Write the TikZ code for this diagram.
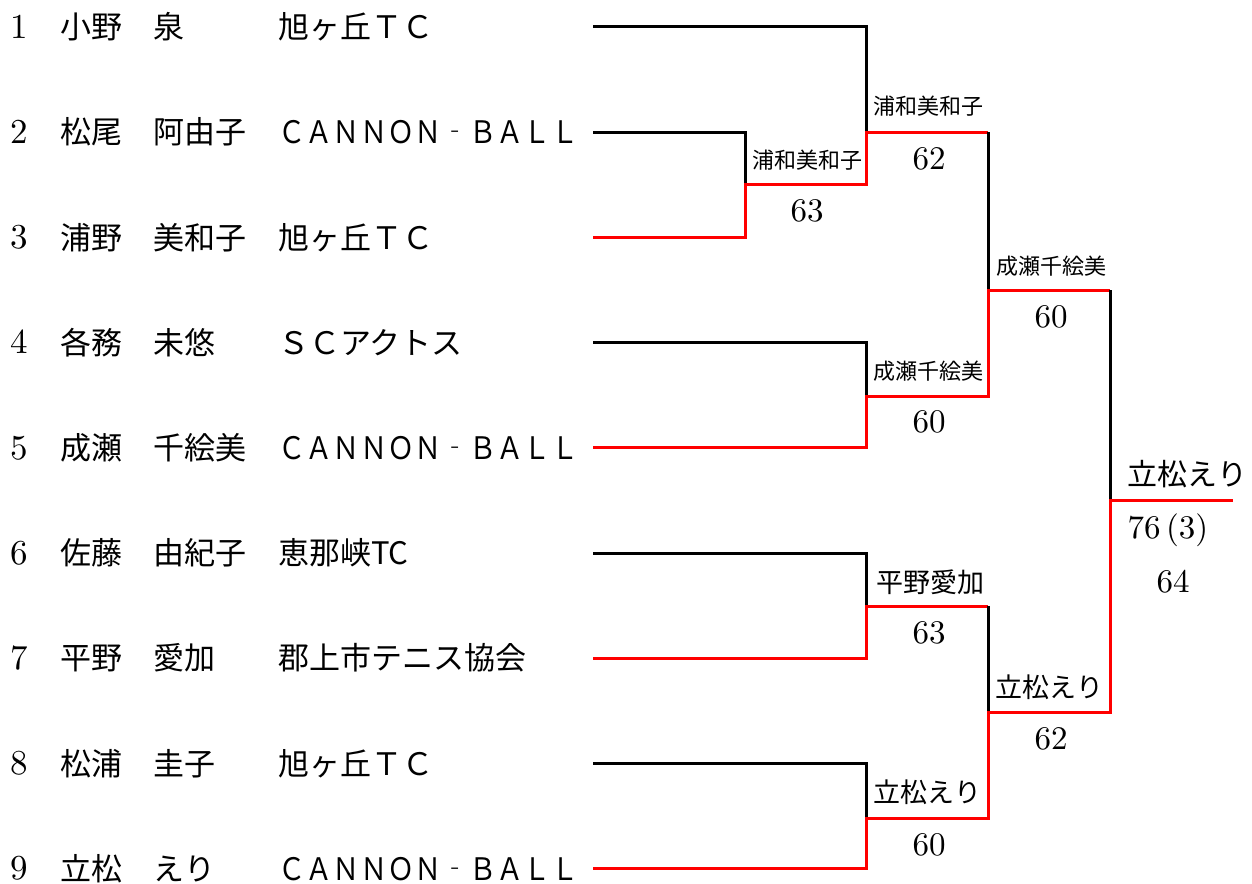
\documentclass[tikz,border=0pt]{standalone}
\usepackage{fontspec}
\usepackage{tikz}
\newfontfamily\jp{Noto Sans CJK JP}
\newfontfamily\jpnarrow[FakeStretch=0.88]{Noto Sans CJK JP}
\newfontfamily\numfont[Extension=.otf]{lmroman10-regular}

\begin{document}
\begin{tikzpicture}[x=1pt, y=-1pt,
                    lose/.style={draw=black, line width=3pt},
                    win/.style={draw=red, line width=3pt},
                    seed/.style={anchor=west, inner sep=0pt, font=\numfont\fontsize{35}{40}\selectfont,
                                 text height=22.5pt, text depth=0pt},
                    player/.style={anchor=west, inner sep=0pt, font=\jp\fontsize{31}{36}\selectfont,
                                   text height=25.5pt, text depth=2pt},
                    winner/.style={inner sep=0pt, font=\jp\fontsize{#1}{#1}\selectfont,
                                   text height={0.82*#1pt}, text depth={0.06*#1pt}},
                    score/.style={inner sep=0pt, font=\numfont\fontsize{33}{38}\selectfont,
                                  text height=21.3pt, text depth=0pt}]
    %\draw[help lines] (0,0) grid[step=50] (1252,883);
    \useasboundingbox (0,0) rectangle (1252,883);

   % Entries
   \foreach \i/\nm/\club in {1/小野　泉/旭ヶ丘ＴＣ,
                             2/松尾　阿由子/{\jpnarrow ＣＡＮＮＯＮ‐ＢＡＬＬ},
                             3/浦野　美和子/旭ヶ丘ＴＣ,
                             4/各務　未悠/ＳＣアクトス,
                             5/成瀬　千絵美/{\jpnarrow ＣＡＮＮＯＮ‐ＢＡＬＬ},
                             6/佐藤　由紀子/恵那峡TC,
                             7/平野　愛加/郡上市テニス協会,
                             8/松浦　圭子/旭ヶ丘ＴＣ,
                             9/立松　えり/{\jpnarrow ＣＡＮＮＯＮ‐ＢＡＬＬ}} {
     \pgfmathsetmacro\y{27+(\i-1)*105.2}
     \node[seed] (n\i) at (10,\y) {\i};
     \node[player] (nm\i) at (60,\y) {\nm};
     \node[player] (c\i) at (278,\y) {\club};
     \coordinate (p\i) at (593,\y);
   }

   % Junctions
   \coordinate (m23) at (745,184);
   \coordinate (q1) at (866,132.2);
   \coordinate (q2) at (866,396);
   \coordinate (q3) at (866,606);
   \coordinate (q4) at (866,818);
   \coordinate (s1) at (988,290);
   \coordinate (s2) at (988,712);
   \coordinate (f) at (1110,500);
   \coordinate (champ) at (1233,500);

   % Define bracket lines
   \draw[lose] (p1) -| (q1);
   \draw[lose] (p2) -| (m23);
   \draw[win] (p3) -| (m23) -| (q1) -- (q1 -| s1);
   \draw[lose] (q1 -| s1) -- (s1);
   \draw[lose] (p4) -| (q2);
   \draw[win] (p5) -| (q2) -| (s1) -- (s1 -| f);
   \draw[lose] (s1 -| f) -- (f);
   \draw[lose] (p6) -| (q3);
   \draw[win] (p7) -| (q3) -- (q3 -| s2);
   \draw[lose] (q3 -| s2) -- (s2);
   \draw[lose] (p8) -| (q4);
   \draw[win] (p9) -| (q4) -| (s2) -| (f) -- (champ);

   % Winners and scores
   \node[winner=22] (w23) at (807,160) {浦和美和子};
   \node[winner=22] (wq1) at (928,106) {浦和美和子};
   \node[winner=22] (wq2) at (928,371) {成瀬千絵美};
   \node[winner=27] (wq3) at (930,582) {平野愛加};
   \node[winner=27] (wq4) at (927,792) {立松えり};
   \node[winner=22] (ws1) at (1051,266) {成瀬千絵美};
   \node[winner=27] (ws2) at (1049,687) {立松えり};
   \node[winner=30] (wf) at (1187,474) {立松えり};

   \node[score] (sc23) at (807,211) {63};
   \node[score] (scq1) at (929,159) {62};
   \node[score] (scq2) at (929,422) {60};
   \node[score] (scq3) at (929,633) {63};
   \node[score] (scq4) at (929,845) {60};
   \node[score] (scs1) at (1051,317) {60};
   \node[score] (scs2) at (1051,739) {62};
   \node[score] (scf1) at (1168,528) {76\,(3)};
   \node[score] (scf2) at (1173,582) {64};

\end{tikzpicture}
\end{document}
